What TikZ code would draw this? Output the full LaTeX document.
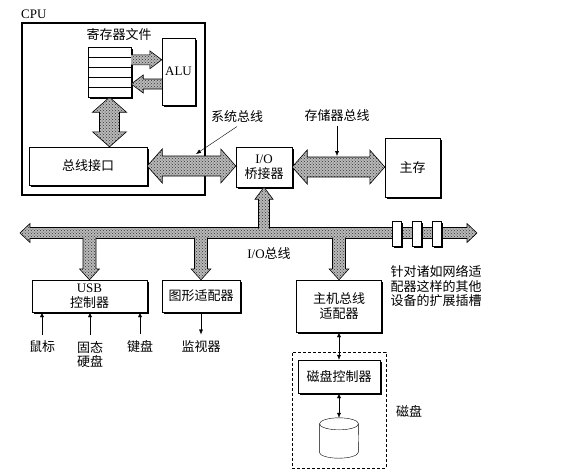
\documentclass[tikz,border=0pt]{standalone}
\usepackage{fontspec}
\setmainfont{Noto Sans CJK SC}
\newfontfamily\lat{Liberation Serif}
\usetikzlibrary{positioning,calc,shadows,patterns,arrows.meta}

% fat arrows: [options]{from}{to}{shaft half width}{head half width}{head length}
\newcommand{\fatdbl}[6][]{%
  \pgfmathsetmacro\fatDa{veclen(#6,#5)}\pgfmathsetmacro\fatAa{atan2(#5,#6)}%
  \pgfmathsetmacro\fatDb{veclen(#6,#4)}\pgfmathsetmacro\fatAb{atan2(#4,#6)}%
  \draw[bus,#1] (#2) -- ($(#2)!\fatDa pt!\fatAa:(#3)$) -- ($(#2)!\fatDb pt!\fatAb:(#3)$)
    -- ($(#3)!\fatDb pt!-\fatAb:(#2)$) -- ($(#3)!\fatDa pt!-\fatAa:(#2)$) -- (#3)
    -- ($(#3)!\fatDa pt!\fatAa:(#2)$) -- ($(#3)!\fatDb pt!\fatAb:(#2)$)
    -- ($(#2)!\fatDb pt!-\fatAb:(#3)$) -- ($(#2)!\fatDa pt!-\fatAa:(#3)$) -- cycle;}
\newcommand{\fatsgl}[6][]{%
  \pgfmathsetmacro\fatDa{veclen(#6,#5)}\pgfmathsetmacro\fatAa{atan2(#5,#6)}%
  \pgfmathsetmacro\fatDb{veclen(#6,#4)}\pgfmathsetmacro\fatAb{atan2(#4,#6)}%
  \draw[bus,#1] ($(#2)!#4pt!90:(#3)$) -- ($(#3)!\fatDb pt!-\fatAb:(#2)$)
    -- ($(#3)!\fatDa pt!-\fatAa:(#2)$) -- (#3) -- ($(#3)!\fatDa pt!\fatAa:(#2)$)
    -- ($(#3)!\fatDb pt!\fatAb:(#2)$) -- ($(#2)!#4pt!-90:(#3)$);}

\tikzset{
  box/.style={draw, fill=white, align=center, inner sep=2pt,
    drop shadow={shadow xshift=1.6pt, shadow yshift=-1.6pt, opacity=1, fill=black}},
  bus/.style={draw, line width=0.6pt, preaction={fill=gray!55},
    pattern=crosshatch dots, pattern color=black!80},
}

\begin{document}
\begin{tikzpicture}[x=1pt, y=-1pt, font=\fontsize{13}{14.5}\selectfont,
    >={Latex[length=5pt,width=4pt]}, every node/.append style={align=center}]
    \useasboundingbox (0,0) rectangle (575,475);

    % CPU
    \node[anchor=base west, inner sep=0] (cpulbl) at (21,18) {\lat CPU};
    \node[draw, line width=1.1pt, minimum width=183pt, minimum height=172pt] (cpu) at (113.5,109) {};
    \node (regtitle) at (119,35) {寄存器文件};
    \node[box, minimum width=43pt, minimum height=50pt] (regs) at (109.5,72) {};
    \foreach \i in {1,...,4}
        \draw ($(regs.north west)!\i/5!(regs.south west)$) -- ($(regs.north east)!\i/5!(regs.south east)$);
    \node[box, minimum width=33pt, minimum height=67pt] (alu) at (178.5,71.5) {\lat ALU};
    \node[box, minimum width=118pt, minimum height=38pt] (busif) at (88,166) {总线接口};

    % bridge and memory
    \node[box, minimum width=56pt, minimum height=40pt] (bridge) at (264,167) {{\lat I/O}\\桥接器};
    \node[box, minimum width=55pt, minimum height=59pt] (mem) at (412.5,167.5) {主存};

    % devices
    \node[box, minimum width=115pt, minimum height=32pt] (usb) at (89.5,296) {{\lat USB}\\控制器};
    \node[box, minimum width=78pt, minimum height=32pt] (gfx) at (201,296) {图形适配器};
    \node[box, minimum width=85pt, minimum height=52pt] (hba) at (339,306) {主机总线\\适配器};
    \node[draw, dash pattern=on 3pt off 2pt, minimum width=94pt, minimum height=116pt] (diskarea) at (339,410) {};
    \node[box, minimum width=82pt, minimum height=33pt] (diskctl) at (339,376.5) {磁盘控制器};
    \node[minimum width=39pt, minimum height=40pt, inner sep=0] (disk) at (339,438) {};
    \draw[fill=white] ($(disk.north west)+(0,6)$) -- ($(disk.south west)+(0,-6)$)
        arc[start angle=180, end angle=360, x radius=19.5pt, y radius=6pt]
        -- ($(disk.north east)+(0,6)$);
    \draw[fill=white] ($(disk.north)+(0,6)$) ellipse [x radius=19.5pt, y radius=6pt];

    % buses
    \coordinate (toalu) at ($(regs.north east)+(0,13)$);
    \coordinate (fromalu) at ($(alu.west)+(0,12.5)$);
    \fatsgl{toalu}{toalu -| alu.west}{5}{9}{12}
    \fatsgl{fromalu}{fromalu -| regs.east}{5}{9}{12}
    \fatdbl{regs.south}{regs.south |- busif.north}{10}{17}{15}
    \fatdbl{busif.east}{busif.east -| bridge.west}{10}{17}{15}
    \fatdbl{bridge.east}{bridge.east -| mem.west}{10}{17}{15}

    \coordinate (iobusL) at (20,233);
    \coordinate (iobusR) at (477,233);
    \coordinate (iobusB) at (0,237.5);
    \coordinate (iobusT) at (0,228.5);
    \fatdbl{iobusL}{iobusR}{5.5}{9.5}{10}
    \fatsgl{usb.north |- iobusB}{usb.north}{6.5}{10}{11}
    \fatsgl{gfx.north |- iobusB}{gfx.north}{6.5}{10}{11}
    \fatsgl{hba.north |- iobusB}{hba.north}{6.5}{10}{11}
    \fatsgl{bridge.south |- iobusT}{bridge.south}{5.5}{9}{12}
    \foreach \x [count=\i] in {397,417,437}
        \node[box, minimum width=9pt, minimum height=25pt, inner sep=0] (slot\i) at (\x,234) {};

    % labels
    \node (sysbuslbl) at (237,117) {系统总线};
    \coordinate (sysbuspt) at (196,154);
    \draw[->] (sysbuslbl.south) -- (sysbuspt);
    \node (membuslbl) at (337,116) {存储器总线};
    \coordinate (membuspt) at (337,156);
    \draw[->] (membuslbl.south) -- (membuspt);
    \node (iobuslbl) at (269,254) {{\lat I/O}总线};
    \node[anchor=north west, align=left] (slotlbl) at (387,262) {针对诸如网络适\\配器这样的其他\\设备的扩展插槽};
    \node (disklbl) at (409,411) {磁盘};

    \node (mouse) at (42,347) {鼠标};
    \node (ssd) at (90,354.5) {固态\\硬盘};
    \node (kbd) at (140,347) {键盘};
    \node (monitor) at (201,347) {监视器};
    \draw[->, shorten <=3pt] (mouse.north) -- (mouse.north |- usb.south);
    \draw[->, shorten <=3pt] (ssd.north) -- (ssd.north |- usb.south);
    \draw[->, shorten <=3pt] (kbd.north) -- (kbd.north |- usb.south);
    \draw[->, shorten >=3pt] (gfx.south) -- (monitor.north);
    \draw[<->] (hba) -- (diskctl);
    \draw[<->] (diskctl) -- (disk);
\end{tikzpicture}
\end{document}
